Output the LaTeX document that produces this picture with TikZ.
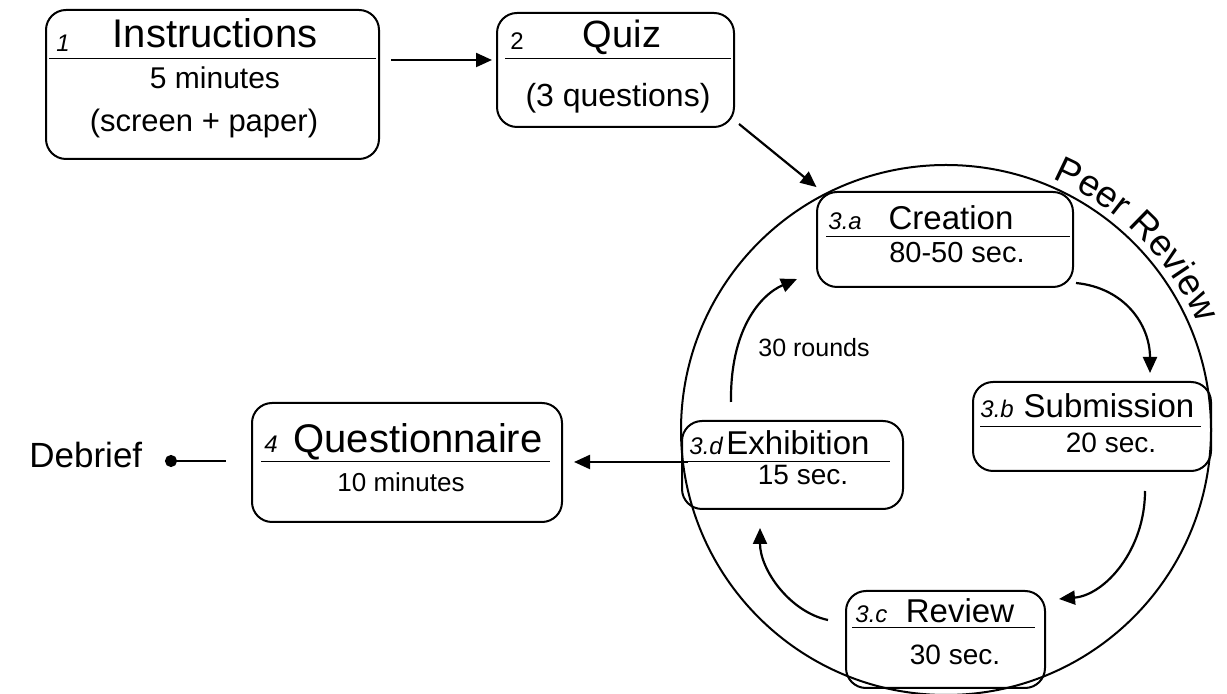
\documentclass[tikz,border=0pt]{standalone}
\usepackage{fontspec}
\setmainfont{Liberation Sans}
\usetikzlibrary{arrows.meta, decorations.text}
\newcommand\fsz[1]{\fontsize{#1}{#1}\selectfont}
\tikzset{
  stage/.style 2 args={draw, line width=1pt, rounded corners=10pt, inner sep=0pt, minimum width=#1, minimum height=#2},
  ttl/.style={anchor=base, inner sep=0pt},
  num/.style={anchor=base west, inner sep=0pt, font=\fsz{12pt}\itshape},
  rule/.style={line width=0.5pt},
  flow/.style={line width=1.1pt, -{Triangle[length=8pt,width=7pt]}},
}

\begin{document}
\begin{tikzpicture}[x=0.5pt, y=-0.5pt]
\useasboundingbox (0,0) rectangle (1227,694);
\node[draw, circle, line width=1pt, inner sep=0pt, minimum size=265pt] (peer) at (946,430) {};
\path[decorate, decoration={text along path, text align=center, text={|\fsz{18.5pt}|Peer Review}}] ([shift={(-86:273)}]peer.center) arc[start angle=-86, end angle=-4, radius=273];

\node[stage={166.5pt}{74.5pt}] (instr) at (212.5,84.5) {};
\node[num] (n1) at (56,52) {1};
\node[ttl, font=\fsz{20pt}] (t1) at (215,48) {Instructions};
\draw[rule] (49,59) -- (376,59);
\node[ttl, font=\fsz{15pt}] (s1) at (215,89) {5 minutes};
\node[ttl, font=\fsz{15.5pt}] (p1) at (204,132) {(screen + paper)};

\node[stage={118.5pt}{57pt}] (quiz) at (615.5,70) {};
\node[num, font=\fsz{12pt}\upshape] (n2) at (510,50) {2};
\node[ttl, font=\fsz{19pt}] (t2) at (622,48) {Quiz};
\draw[rule] (505,59) -- (731,59);
\node[ttl, font=\fsz{16pt}] (s2) at (618,107) {(3 questions)};

\node[stage={128pt}{47.5pt}] (crea) at (945,239.5) {};
\node[num] (n3a) at (828,230) {3.a};
\node[ttl, font=\fsz{16.5pt}] (t3a) at (951,230) {Creation};
\draw[rule] (826,237) -- (1070,237);
\node[ttl, font=\fsz{14.5pt}] (s3a) at (957,263) {80-50 sec.};

\node[stage={119pt}{44.5pt}] (subm) at (1092,426.5) {};
\node[num] (n3b) at (980,418) {3.b};
\node[ttl, font=\fsz{16.5pt}] (t3b) at (1109,418) {Submission};
\draw[rule] (980,427) -- (1201,427);
\node[ttl, font=\fsz{14pt}] (s3b) at (1111,453) {20 sec.};

\node[stage={99.5pt}{48.5pt}] (revi) at (945.5,639.5) {};
\node[num] (n3c) at (855,623) {3.c};
\node[ttl, font=\fsz{16.5pt}] (t3c) at (960,623) {Review};
\draw[rule] (852,628) -- (1035,628);
\node[ttl, font=\fsz{14pt}] (s3c) at (955,665) {30 sec.};

\node[stage={110.5pt}{44pt}] (exhi) at (792.5,465) {};
\node[num] (n3d) at (689,455) {3.d};
\node[ttl, font=\fsz{16.5pt}] (t3d) at (798,455) {Exhibition};
\draw[rule] (688,462) -- (890,462);
\node[ttl, font=\fsz{14pt}] (s3d) at (803,485) {15 sec.};

\node[stage={155pt}{59.5pt}] (quest) at (407,462.5) {};
\node[num] (n4) at (264,453) {4};
\node[ttl, font=\fsz{20pt}] (t4) at (418,453) {Questionnaire};
\draw[rule] (261,462) -- (550,462);
\node[ttl, font=\fsz{13pt}] (s4) at (401,492) {10 minutes};

\node[anchor=base west, inner sep=0pt, font=\fsz{17.5pt}] (debrief) at (29,468) {Debrief};
\coordinate (dbl) at (165,461);
\node[ttl, font=\fsz{12.5pt}] (rounds) at (814,357) {30 rounds};

\draw[flow, shorten <=5.5pt, shorten >=2pt] (instr.east |- 0,60) -- (quiz.west |- 0,60);
\draw[flow] ([xshift=2pt,yshift=2pt]quiz.south east) -- ([xshift=-2.3pt,yshift=4pt]peer.118);
\draw[flow] ([xshift=1pt,yshift=2.5pt]crea.south east) .. controls (1125,288) and (1150,325) .. ([xshift=29pt,yshift=4pt]subm.north);
\draw[flow] ([xshift=26.5pt,yshift=-9.5pt]subm.south) .. controls (1145,550) and (1105,595) .. ([xshift=6.5pt,yshift=-4.5pt]revi.north east);
\draw[flow] ([xshift=-8.5pt,yshift=-15pt]revi.north west) .. controls (790,612) and (760,570) .. ([xshift=-16.25pt,yshift=-9pt]exhi.south);
\draw[flow] ([xshift=25pt,yshift=9pt]exhi.north west) .. controls (730,330) and (760,295) .. ([xshift=-9.5pt,yshift=4.5pt]crea.south west);
\draw[flow, shorten <=-4pt, shorten >=5.5pt] (peer.west |- 0,462) -- (quest.east |- 0,462);
\draw[line width=1.1pt, {Circle[length=6pt]}-, shorten >=12.5pt] (dbl) -- (quest.west |- dbl);
\end{tikzpicture}
\end{document}
